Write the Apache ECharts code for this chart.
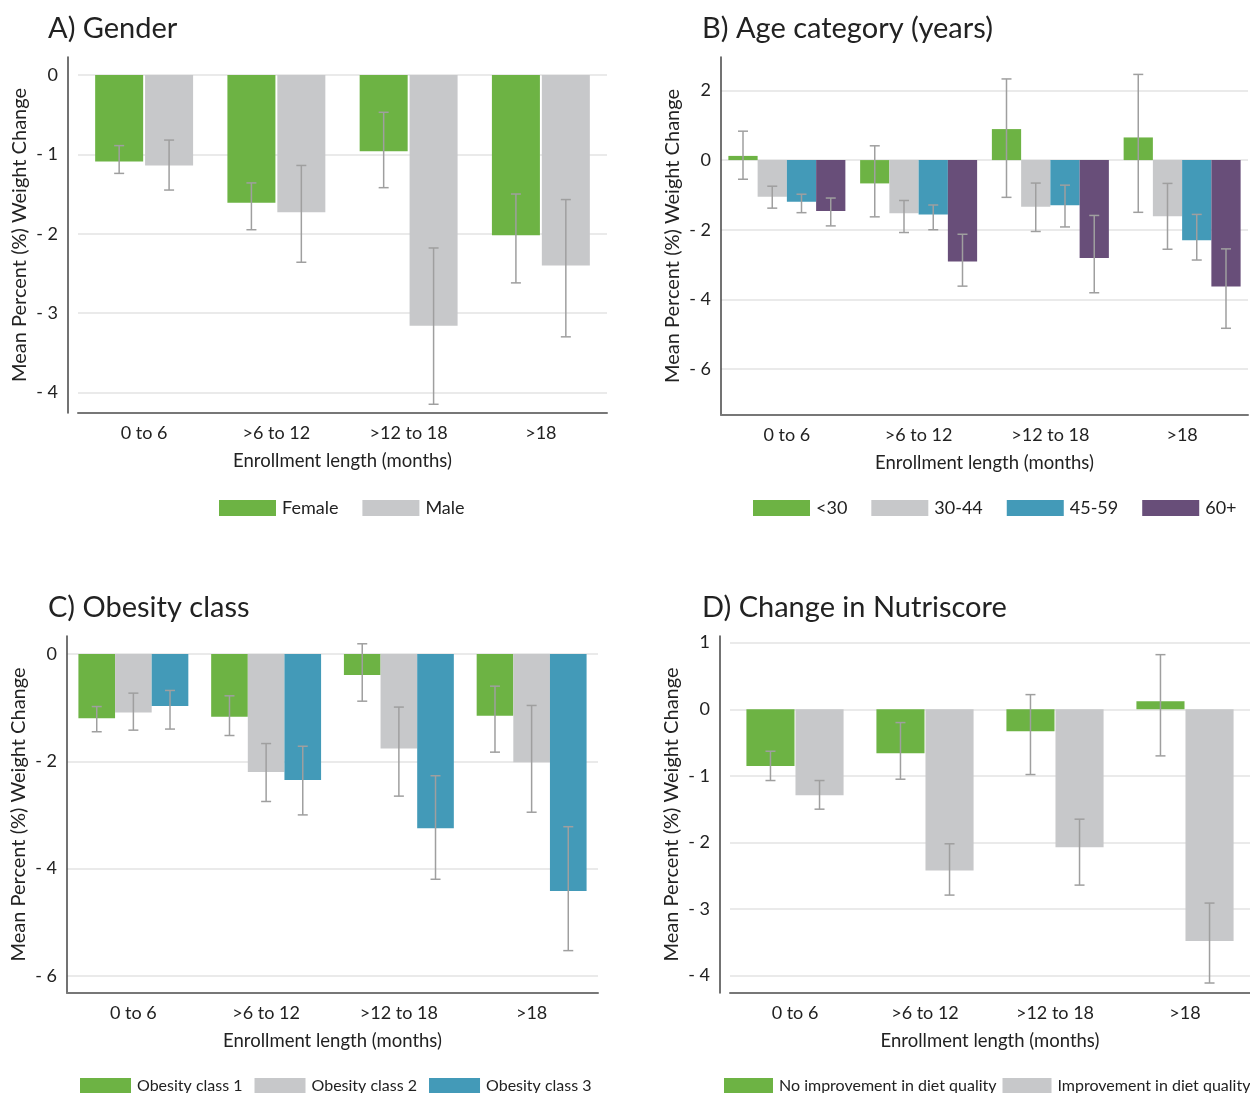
<!DOCTYPE html>
<html><head><meta charset="utf-8">
<script src="https://cdn.jsdelivr.net/npm/echarts@6/dist/echarts.min.js"></script>
<style>html,body{margin:0;padding:0;background:#fff}#c{width:1250px;height:1093px}</style>
</head><body><div id="c"></div>
<script>
const categories = ['0 to 6', '>6 to 12', '>12 to 18', '>18'];

// A) Gender
const femaleMean = [-1.09, -1.61, -0.96, -2.02];
const femaleLow  = [-1.24, -1.95, -1.42, -2.62];
const femaleHigh = [-0.89, -1.36, -0.47, -1.50];
const maleMean = [-1.14, -1.73, -3.16, -2.40];
const maleLow  = [-1.45, -2.36, -4.15, -3.30];
const maleHigh = [-0.82, -1.14, -2.18, -1.57];

// B) Age category
const ageU30Mean = [0.12, -0.67, 0.89, 0.65];
const ageU30Low  = [-0.55, -1.63, -1.07, -1.50];
const ageU30High = [0.83, 0.41, 2.33, 2.46];
const age3044Mean = [-1.05, -1.53, -1.34, -1.61];
const age3044Low  = [-1.38, -2.08, -2.05, -2.56];
const age3044High = [-0.75, -1.16, -0.66, -0.67];
const age4559Mean = [-1.20, -1.56, -1.30, -2.30];
const age4559Low  = [-1.51, -2.00, -1.92, -2.87];
const age4559High = [-0.98, -1.29, -0.72, -1.56];
const age60Mean = [-1.46, -2.91, -2.81, -3.63];
const age60Low  = [-1.89, -3.62, -3.81, -4.83];
const age60High = [-1.09, -2.13, -1.59, -2.55];

// C) Obesity class
const ob1Mean = [-1.20, -1.17, -0.39, -1.15];
const ob1Low  = [-1.45, -1.52, -0.88, -1.83];
const ob1High = [-0.98, -0.78, 0.19, -0.60];
const ob2Mean = [-1.09, -2.20, -1.76, -2.02];
const ob2Low  = [-1.42, -2.75, -2.65, -2.95];
const ob2High = [-0.73, -1.67, -0.99, -0.96];
const ob3Mean = [-0.97, -2.35, -3.25, -4.42];
const ob3Low  = [-1.40, -3.00, -4.20, -5.53];
const ob3High = [-0.68, -1.72, -2.27, -3.22];

// D) Change in Nutriscore
const noImpMean = [-0.85, -0.66, -0.33, 0.12];
const noImpLow  = [-1.07, -1.05, -0.98, -0.70];
const noImpHigh = [-0.63, -0.20, 0.22, 0.82];
const impMean = [-1.29, -2.42, -2.07, -3.48];
const impLow  = [-1.50, -2.79, -2.64, -4.11];
const impHigh = [-1.07, -2.02, -1.65, -2.91];

const GREEN = '#6db344', GRAY = '#c7c8ca', BLUE = '#439ab8', PURPLE = '#684e79';
const FONT = 'Lato';
const TXT = '#222';

const panels = [
  {title: 'A) Gender', tl: 43, tt: 9,
   grid: {left: 78, top: 57, width: 529, height: 356}, yOff: 10,
   ymin: -4.26, ymax: 0.227, step: 1, bw: 0.363, gap: 0.04,
   legend: {left: 214, top: 494, w: 57, h: 16, fs: 18, gapI: 24},
   series: [['Female', GREEN, femaleMean, femaleLow, femaleHigh],
            ['Male', GRAY, maleMean, maleLow, maleHigh]]},
  {title: 'B) Age category (years)', tl: 697, tt: 9,
   grid: {left: 721, top: 57, width: 527, height: 358}, yOff: 0,
   ymin: -7.32, ymax: 2.96, step: 2, bw: 0.222, gap: 0,
   legend: {left: 748, top: 494, w: 57, h: 16, fs: 18, gapI: 24},
   series: [['<30', GREEN, ageU30Mean, ageU30Low, ageU30High],
            ['30-44', GRAY, age3044Mean, age3044Low, age3044High],
            ['45-59', BLUE, age4559Mean, age4559Low, age4559High],
            ['60+', PURPLE, age60Mean, age60Low, age60High]]},
  {title: 'C) Obesity class', tl: 43, tt: 588,
   grid: {left: 67, top: 636, width: 531, height: 357}, yOff: 0,
   ymin: -6.32, ymax: 0.335, step: 2, bw: 0.276, gap: 0,
   legend: {left: 75, top: 1073, w: 51, h: 16, fs: 16, gapI: 12},
   series: [['Obesity class 1', GREEN, ob1Mean, ob1Low, ob1High],
            ['Obesity class 2', GRAY, ob2Mean, ob2Low, ob2High],
            ['Obesity class 3', BLUE, ob3Mean, ob3Low, ob3High]]},
  {title: 'D) Change in Nutriscore', tl: 697, tt: 588,
   grid: {left: 730, top: 636, width: 531, height: 357}, yOff: 10,
   ymin: -4.26, ymax: 1.1, step: 1, bw: 0.37, gap: 0.02,
   legend: {left: 719, top: 1073, w: 49, h: 16, fs: 16, gapI: 6, width: 700},
   series: [['No improvement in diet quality', GREEN, noImpMean, noImpLow, noImpHigh],
            ['Improvement in diet quality', GRAY, impMean, impLow, impHigh]]}
];

function fmtY(v) {
  const r = Math.round(v * 1000) / 1000;
  if (Math.abs(r - Math.round(r)) > 1e-6) return '';
  return r < 0 ? '- ' + Math.abs(Math.round(r)) : String(Math.round(r));
}

function errSeries(k, low, high, slot, n, wPct, gPct) {
  return {
    type: 'custom', xAxisIndex: k, yAxisIndex: k, z: 5, silent: true,
    data: categories.map((c, i) => [i, low[i], high[i]]),
    encode: {x: 0, y: [1, 2]},
    renderItem: (params, api) => {
      const i = api.value(0);
      const p1 = api.coord([i, api.value(1)]);
      const p2 = api.coord([i, api.value(2)]);
      const band = api.size([1, 0])[0];
      const bw = band * wPct;
      const gap = bw * gPct;
      const total = n * bw + (n - 1) * gap;
      const x = p1[0] - total / 2 + slot * (bw + gap) + bw / 2;
      const cap = 5;
      const style = {stroke: '#9f9f9f', lineWidth: 1.5};
      return {type: 'group', children: [
        {type: 'line', shape: {x1: x, y1: p1[1], x2: x, y2: p2[1]}, style},
        {type: 'line', shape: {x1: x - cap, y1: p1[1], x2: x + cap, y2: p1[1]}, style},
        {type: 'line', shape: {x1: x - cap, y1: p2[1], x2: x + cap, y2: p2[1]}, style}
      ]};
    }
  };
}

const option = {
  animation: false,
  backgroundColor: '#fff',
  textStyle: {fontFamily: FONT},
  title: panels.map(p => ({text: p.title, left: p.tl, top: p.tt,
    textStyle: {fontFamily: FONT, fontSize: 29, fontWeight: 'normal', color: TXT}})),
  grid: panels.map(p => Object.assign({containLabel: false}, p.grid)),
  xAxis: panels.map((p, k) => ({
    type: 'category', gridIndex: k, data: categories,
    axisLine: {onZero: false, lineStyle: {color: '#777', width: 2}},
    axisTick: {show: false},
    axisLabel: {fontFamily: FONT, fontSize: 18, color: TXT, margin: 11},
    name: 'Enrollment length (months)', nameLocation: 'middle', nameGap: 39,
    nameTextStyle: {fontFamily: FONT, fontSize: 18.5, color: TXT}
  })),
  yAxis: panels.map((p, k) => ({
    type: 'value', gridIndex: k, min: p.ymin, max: p.ymax,
    minInterval: p.step, maxInterval: p.step, offset: p.yOff,
    axisLine: {show: true, lineStyle: {color: '#444', width: 1.5}},
    axisTick: {show: false},
    axisLabel: {fontFamily: FONT, fontSize: 18, color: TXT, margin: 10,
      showMinLabel: false, showMaxLabel: false, formatter: fmtY},
    splitLine: {show: true, showMinLine: false, showMaxLine: false,
      lineStyle: {color: '#e3e3e3', width: 1.5}},
    name: 'Mean Percent (%) Weight Change', nameLocation: 'middle', nameGap: 38,
    nameTextStyle: {fontFamily: FONT, fontSize: 20, color: TXT}
  })),
  legend: panels.map(p => Object.assign({
    left: p.legend.left, top: p.legend.top, orient: 'horizontal',
    itemWidth: p.legend.w, itemHeight: p.legend.h, itemGap: p.legend.gapI,
    icon: 'rect', selectedMode: false,
    textStyle: {fontFamily: FONT, fontSize: p.legend.fs, color: TXT, padding: [0, 0, 0, 1]},
    data: p.series.map(s => s[0])
  }, p.legend.width ? {width: p.legend.width} : {})),
  series: []
};

panels.forEach((p, k) => {
  const n = p.series.length;
  p.series.forEach((s, j) => {
    option.series.push({
      type: 'bar', name: s[0], xAxisIndex: k, yAxisIndex: k,
      data: s[2], barWidth: (p.bw * 100) + '%', barGap: (p.gap * 100) + '%',
      itemStyle: {color: s[1]}, z: 2
    });
  });
  p.series.forEach((s, j) => {
    option.series.push(errSeries(k, s[3], s[4], j, n, p.bw, p.gap));
  });
});

const chart = echarts.init(document.getElementById('c'), null, {renderer: 'canvas'});
chart.setOption(option);
</script></body></html>
